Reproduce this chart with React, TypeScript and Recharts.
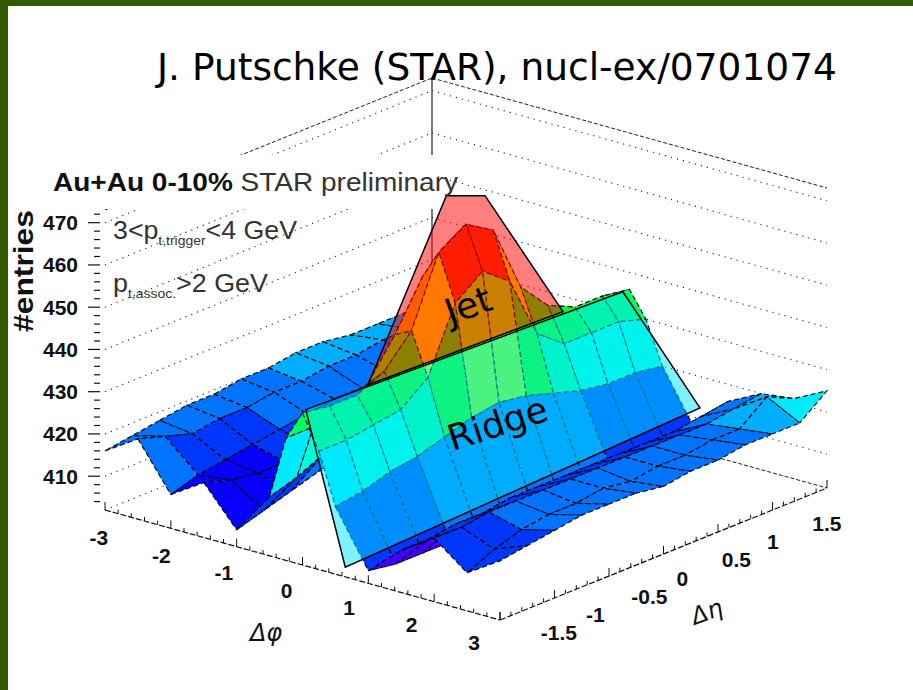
import React from "react"
import { ScatterChart, Scatter, XAxis, YAxis } from "recharts"

const W = 913
const H = 690

// Δφ and Δη bin positions of the correlation surface
const dPhi = [-3, -2.5, -2, -1.5, -1, -0.5, -0.25, 0, 0.25, 0.5, 1, 1.5, 2, 2.5, 3]
const dEta = [-1.5, -1.25, -1, -0.75, -0.5, -0.25, 0, 0.25, 0.5, 0.75, 1, 1.25, 1.5]

// #entries, one row per Δη bin, one value per Δφ bin
const rowEtaM150 = [416, 421, 410, 415, 406, 416, 431, 438, 430, 418, 405, 412, 417, 411, 416]
const rowEtaM125 = [417, 419, 412, 413, 408, 418, 431, 437, 430, 419, 404, 412, 417, 414, 417]
const rowEtaM100 = [418, 417, 413, 412, 410, 421, 432, 437, 431, 421, 404, 413, 418, 416, 418]
const rowEtaM075 = [419, 418, 414, 412, 412, 423, 436, 440, 432, 422, 404, 413, 418, 417, 419]
const rowEtaM050 = [419, 418, 415, 413, 414, 428, 445, 447, 437, 424, 404, 414, 418, 417, 419]
const rowEtaM025 = [420, 419, 416, 414, 415, 432, 456, 463, 452, 426, 404, 414, 418, 418, 419]
const rowEta000 = [420, 419, 417, 415, 416, 435, 462, 467, 457, 427, 405, 414, 418, 417, 418]
const rowEtaP025 = [421, 420, 417, 415, 416, 432, 456, 463, 452, 426, 404, 414, 418, 418, 419]
const rowEtaP050 = [421, 420, 418, 416, 416, 428, 443, 447, 437, 424, 404, 414, 418, 418, 419]
const rowEtaP075 = [420, 421, 418, 416, 416, 426, 436, 440, 432, 422, 404, 414, 418, 419, 420]
const rowEtaP100 = [420, 421, 418, 417, 417, 425, 433, 437, 432, 421, 404, 414, 418, 419, 420]
const rowEtaP125 = [420, 422, 419, 418, 418, 425, 432, 437, 432, 421, 405, 415, 419, 424, 420]
const rowEtaP150 = [419, 423, 419, 418, 420, 425, 432, 436, 430, 420, 407, 416, 420, 421, 425]
const entries = [
  rowEtaM150, rowEtaM125, rowEtaM100, rowEtaM075, rowEtaM050, rowEtaM025, rowEta000,
  rowEtaP025, rowEtaP050, rowEtaP075, rowEtaP100, rowEtaP125, rowEtaP150,
]

const phiTicks = [-3, -2, -1, 0, 1, 2, 3]
const etaTicks = [-1.5, -1, -0.5, 0, 0.5, 1, 1.5]
const zTicks = [410, 420, 430, 440, 450, 460, 470]

// hand drawn bands on the slide, corners as [Δφ, Δη, #entries]
const jetBand = [[-0.1, -0.84, 437.3], [-0.1, -0.12, 474.6], [-0.1, 0.235, 470.9], [-0.1, 0.95, 436]]
const ridgeBand = [[0.05, -1.5, 439], [-0.1, 1.5, 435], [1.07, 1.5, 412.6], [0.65, -1.5, 404.3]]

const phiMin = -3
const phiMax = 3
const etaMin = -1.5
const etaMax = 1.5
const zMin = 402
const zMax = 473

// lego box seen from the (Δφ=3, Δη=-1.5) corner, in chart units
const box = { ox: 105, oy: 510, phiDx: 395, phiDy: 110, etaDx: 327, etaDy: -132, zLen: 300 }

type Pt = { x: number; y: number; text?: string; major?: boolean }

function project(phi: number, eta: number, z: number): Pt {
  const a = (phi - phiMin) / (phiMax - phiMin)
  const b = (eta - etaMin) / (etaMax - etaMin)
  const c = (z - zMin) / (zMax - zMin)
  return {
    x: box.ox + a * box.phiDx + b * box.etaDx,
    y: box.oy + a * box.phiDy + b * box.etaDy - c * box.zLen,
  }
}

// ROOT "pretty" palette: violet -> blue -> cyan -> green -> yellow -> red, in 20 bands
function surfaceColor(v: number) {
  const t = Math.min(1, Math.max(0, (v - 406) / (466 - 406)))
  const lvl = Math.round(t * 19) / 19
  return `hsl(${Math.round(270 * (1 - lvl))}, 100%, 50%)`
}

const dotted = { stroke: "#222", strokeWidth: 1.1, strokeDasharray: "1.2 5", fill: "none" }
const dashed = { stroke: "#222", strokeWidth: 1, strokeDasharray: "4 2", fill: "none" }
const solid = { stroke: "#222", strokeWidth: 1.2, fill: "none" }

const backLines: { key: string; pts: Pt[]; style: any }[] = []
zTicks.forEach((z) => {
  backLines.push({ key: `lw${z}`, pts: [project(phiMin, etaMin, z), project(phiMin, etaMax, z)], style: dotted })
  backLines.push({ key: `bw${z}`, pts: [project(phiMin, etaMax, z), project(phiMax, etaMax, z)], style: dotted })
})
backLines.push({ key: "topL", pts: [project(phiMin, etaMin, zMax), project(phiMin, etaMax, zMax)], style: dashed })
backLines.push({ key: "topB", pts: [project(phiMin, etaMax, zMax), project(phiMax, etaMax, zMax)], style: dashed })
backLines.push({ key: "floorL", pts: [project(phiMin, etaMin, zMin), project(phiMin, etaMax, zMin)], style: dotted })
backLines.push({ key: "floorB", pts: [project(phiMin, etaMax, zMin), project(phiMax, etaMax, zMin)], style: dashed })
backLines.push({ key: "edge", pts: [project(phiMin, etaMax, zMin), project(phiMin, etaMax, zMax)], style: solid })

// surface cells, painted far to near; colour leans to the highest corner like ROOT's banded fill
const cells: { key: string; pts: Pt[]; fill: string; depth: number }[] = []
for (let j = 0; j < dEta.length - 1; j++) {
  for (let i = 0; i < dPhi.length - 1; i++) {
    const corners = [[i, j], [i + 1, j], [i + 1, j + 1], [i, j + 1]]
    const vals = corners.map(([a, b]) => entries[b][a])
    const pts = corners.map(([a, b]) => project(dPhi[a], dEta[b], entries[b][a]))
    const mean = vals.reduce((s, v) => s + v, 0) / 4
    const level = mean + 0.35 * (Math.max(...vals) - mean)
    const base = project((dPhi[i] + dPhi[i + 1]) / 2, (dEta[j] + dEta[j + 1]) / 2, zMin)
    cells.push({ key: `c${i}-${j}`, pts, fill: surfaceColor(level), depth: base.y })
  }
}
cells.sort((a, b) => a.depth - b.depth)

const meshStyle = { stroke: "#000", strokeWidth: 1.2, strokeDasharray: "5 3", strokeOpacity: 0.9 }
const axisStyle = { stroke: "#111", strokeWidth: 1.2, strokeDasharray: "6 2", fill: "none" }
const phiAxis = [project(phiMin, etaMin, zMin), project(phiMax, etaMin, zMin)]
const etaAxis = [project(phiMax, etaMin, zMin), project(phiMax, etaMax, zMin)]

const phiTickPts: Pt[] = []
for (let k = 0; k <= 30; k++) {
  phiTickPts.push({ ...project(phiMin + k * 0.2, etaMin, zMin), major: k % 5 === 0 })
}
const etaTickPts: Pt[] = []
for (let k = 0; k <= 30; k++) {
  etaTickPts.push({ ...project(phiMax, etaMin + k * 0.1, zMin), major: k % 5 === 0 })
}
const zTickPts: Pt[] = []
for (let z = 404; z <= 472; z += 2) {
  zTickPts.push({ ...project(phiMin, etaMin, z), major: z % 10 === 0 })
}

const phiLabelPts: Pt[] = phiTicks.map((v) => ({ ...project(v * 0.95, etaMin, zMin), text: String(v) }))
const etaLabelPts: Pt[] = etaTicks.map((v) => ({ ...project(phiMax, v * 0.83, zMin), text: String(v) }))
const zLabelPts: Pt[] = zTicks.map((v) => ({ ...project(phiMin, etaMin, v), text: String(v) }))

const jetPts = jetBand.map(([p, e, z]) => project(p, e, z))
const ridgePts = ridgeBand.map(([p, e, z]) => project(p, e, z))

const noDot = () => <g />
const tickFont = { fontFamily: "Liberation Sans, Arial, sans-serif", fontWeight: 700, fontSize: 21, fill: "#111" }

const upTickShape = (p: any) => (
  <line x1={p.cx} y1={p.cy} x2={p.cx} y2={p.cy - (p.payload.major ? 8 : 4)} stroke="#111" strokeWidth={1} />
)
const zTickShape = (p: any) => (
  <line x1={p.cx - 5} y1={p.cy} x2={p.cx - (p.payload.major ? 17 : 11)} y2={p.cy} stroke="#111" strokeWidth={1.2} />
)
const phiLabelShape = (p: any) => (
  <text x={p.cx - 16} y={p.cy + 25} textAnchor="middle" dominantBaseline="central" {...tickFont}>
    {p.payload.text}
  </text>
)
const etaLabelShape = (p: any) => (
  <text x={p.cx + 13} y={p.cy + 24} textAnchor="start" dominantBaseline="central" {...tickFont}>
    {p.payload.text}
  </text>
)
const zLabelShape = (p: any) => (
  <text x={p.cx - 27} y={p.cy} textAnchor="end" dominantBaseline="central" {...tickFont}>
    {p.payload.text}
  </text>
)

export default function App() {
  return (
    <div style={{ position: "absolute", left: 0, top: 0, width: W, height: H, background: "#fff", overflow: "hidden" }}>
      <div style={{ position: "absolute", left: 0, top: 0 }}>
        <ScatterChart width={W} height={H} margin={{ top: 0, right: 0, bottom: 0, left: 0 }}>
          <XAxis type="number" dataKey="x" domain={[0, W]} hide allowDataOverflow />
          <YAxis type="number" dataKey="y" domain={[0, H]} hide reversed allowDataOverflow />
          {backLines.map((l) => (
            <Scatter key={l.key} data={l.pts} line={l.style} lineType="joint" shape={noDot} isAnimationActive={false} />
          ))}
          {cells.map((c) => (
            <Scatter
              key={c.key}
              data={c.pts}
              line={{ fill: c.fill, ...meshStyle }}
              lineType="joint"
              lineJointType="linearClosed"
              shape={noDot}
              isAnimationActive={false}
            />
          ))}
          <Scatter data={phiAxis} line={axisStyle} lineType="joint" shape={noDot} isAnimationActive={false} />
          <Scatter data={etaAxis} line={axisStyle} lineType="joint" shape={noDot} isAnimationActive={false} />
          <Scatter data={phiTickPts} shape={upTickShape} isAnimationActive={false} />
          <Scatter data={etaTickPts} shape={upTickShape} isAnimationActive={false} />
          <Scatter data={zTickPts} shape={zTickShape} isAnimationActive={false} />
          <Scatter data={phiLabelPts} shape={phiLabelShape} isAnimationActive={false} />
          <Scatter data={etaLabelPts} shape={etaLabelShape} isAnimationActive={false} />
          <Scatter data={zLabelPts} shape={zLabelShape} isAnimationActive={false} />
          <Scatter
            data={jetPts}
            line={{ fill: "#ff0000", fillOpacity: 0.5, stroke: "#000", strokeWidth: 1.5 }}
            lineType="joint"
            lineJointType="linearClosed"
            shape={noDot}
            isAnimationActive={false}
          />
          <Scatter
            data={ridgePts}
            line={{ fill: "#00e5ff", fillOpacity: 0.5, stroke: "#000", strokeWidth: 1.5 }}
            lineType="joint"
            lineJointType="linearClosed"
            shape={noDot}
            isAnimationActive={false}
          />
        </ScatterChart>
      </div>
      <svg width={W} height={H} style={{ position: "absolute", left: 0, top: 0 }}>
        <rect x={45} y={155} width={391} height={54} fill="#fff" />
        <text x={157} y={80} fontFamily="DejaVu Sans" fontSize={37} fill="#000" textLength={680} lengthAdjust="spacingAndGlyphs">
          J. Putschke (STAR), nucl-ex/0701074
        </text>
        <text x={53} y={191} fontFamily="Liberation Sans, Arial, sans-serif" fontSize={25} fill="#111" textLength={405} lengthAdjust="spacingAndGlyphs">
          <tspan fontWeight={700}>Au+Au 0-10%</tspan>
          <tspan fill="#333"> STAR preliminary</tspan>
        </text>
        <text x={113} y={239} fontFamily="Liberation Sans, Arial, sans-serif" fontSize={25} fill="#333" textLength={184} lengthAdjust="spacingAndGlyphs">
          3&lt;p
          <tspan fontSize={13} dy={6}>t,trigger</tspan>
          <tspan dy={-6}>&lt;4 GeV</tspan>
        </text>
        <text x={113} y={292} fontFamily="Liberation Sans, Arial, sans-serif" fontSize={25} fill="#333" textLength={155} lengthAdjust="spacingAndGlyphs">
          p
          <tspan fontSize={13} dy={6}>t,assoc.</tspan>
          <tspan dy={-6}>&gt;2 GeV</tspan>
        </text>
        <text
          x={33}
          y={271}
          transform="rotate(-90, 33, 271)"
          textAnchor="middle"
          fontFamily="Liberation Sans, Arial, sans-serif"
          fontWeight={700}
          fontSize={28}
          fill="#111"
          textLength={122}
          lengthAdjust="spacingAndGlyphs"
        >
          #entries
        </text>
        <text x={266} y={641} textAnchor="middle" fontFamily="DejaVu Sans" fontStyle="italic" fontSize={24} fill="#111">
          Δφ
        </text>
        <text x={707} y={620} textAnchor="middle" transform="rotate(-20, 707, 612)" fontFamily="DejaVu Sans" fontStyle="italic" fontSize={24} fill="#111">
          Δη
        </text>
        <text x={468} y={318} textAnchor="middle" transform="rotate(-20, 468, 305)" fontFamily="DejaVu Sans" fontSize={36} fill="#000">
          Jet
        </text>
        <text x={498} y={436} textAnchor="middle" transform="rotate(-18, 498, 425)" fontFamily="DejaVu Sans" fontSize={36} fill="#000">
          Ridge
        </text>
      </svg>
      <div style={{ position: "absolute", left: 0, top: 0, width: W, height: 6, background: "#335a00" }} />
      <div style={{ position: "absolute", left: 0, top: 0, width: 8, height: H, background: "#335a00" }} />
    </div>
  )
}
